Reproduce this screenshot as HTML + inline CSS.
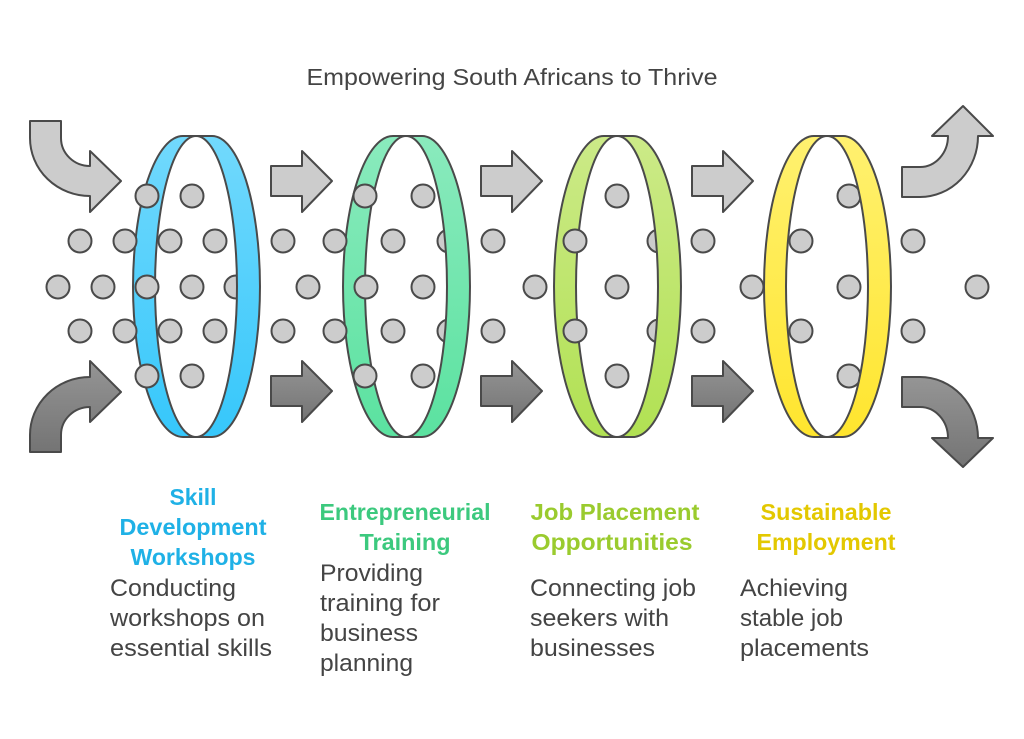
<!DOCTYPE html>
<html><head><meta charset="utf-8"><style>html,body{margin:0;padding:0;background:#fff}svg{display:block}</style></head>
<body>
<svg width="1024" height="739" viewBox="0 0 1024 739" xmlns="http://www.w3.org/2000/svg" font-family="Liberation Sans, sans-serif">
<defs>
<linearGradient id="g1" x1="0" y1="0" x2="0" y2="1"><stop offset="0" stop-color="#72d9fc"/><stop offset="1" stop-color="#36c7fb"/></linearGradient>
<linearGradient id="g2" x1="0" y1="0" x2="0" y2="1"><stop offset="0" stop-color="#8aeabd"/><stop offset="1" stop-color="#5be2a0"/></linearGradient>
<linearGradient id="g3" x1="0" y1="0" x2="0" y2="1"><stop offset="0" stop-color="#ccea88"/><stop offset="1" stop-color="#b1e153"/></linearGradient>
<linearGradient id="g4" x1="0" y1="0" x2="0" y2="1"><stop offset="0" stop-color="#fff170"/><stop offset="1" stop-color="#ffe52e"/></linearGradient>
<linearGradient id="gd" x1="0" y1="0" x2="0" y2="1"><stop offset="0" stop-color="#959595"/><stop offset="1" stop-color="#747474"/></linearGradient>
<g id="dot"><circle r="11.5" fill="#cccccc" stroke="#4a4a4a" stroke-width="2"/></g>
<g id="ra"><path d="M0,15 L31,15 L31,0 L61,30 L31,61 L31,45 L0,45 Z" stroke="#4a4a4a" stroke-width="2" stroke-linejoin="round"/></g>
</defs>

<text x="512" y="85" text-anchor="middle" font-size="23" fill="#444" textLength="411" lengthAdjust="spacingAndGlyphs">Empowering South Africans to Thrive</text>

<path d="M30,121 L61,121 L61,138 A29,28 0 0 0 90,166 L90,151 L121,181 L90,212 L90,196 A60,58 0 0 1 30,138 Z" fill="#cccccc" stroke="#4a4a4a" stroke-width="2" stroke-linejoin="round"/>
<path d="M30,452 L61,452 L61,435 A29,28 0 0 1 90,407 L90,422 L121,392 L90,361 L90,377 A60,58 0 0 0 30,435 Z" fill="url(#gd)" stroke="#4a4a4a" stroke-width="2" stroke-linejoin="round"/>
<path d="M902,167 L920,167 A28,31 0 0 0 948,136 L932,136 L963,106 L993,136 L978,136 A58,61 0 0 1 920,197 L902,197 Z" fill="#cccccc" stroke="#4a4a4a" stroke-width="2" stroke-linejoin="round"/>
<path d="M902,407 L920,407 A28,31 0 0 1 948,438 L932,438 L963,467 L993,438 L978,438 A58,61 0 0 0 920,377 L902,377 Z" fill="url(#gd)" stroke="#4a4a4a" stroke-width="2" stroke-linejoin="round"/>

<use href="#ra" x="271" y="151" fill="#cccccc"/>
<use href="#ra" x="481" y="151" fill="#cccccc"/>
<use href="#ra" x="692" y="151" fill="#cccccc"/>
<use href="#ra" x="271" y="361" fill="url(#gd)"/>
<use href="#ra" x="481" y="361" fill="url(#gd)"/>
<use href="#ra" x="692" y="361" fill="url(#gd)"/>

<g stroke="#4a4a4a" stroke-width="2" stroke-linejoin="round">
<path d="M183,136 A50,150.5 0 0 0 183,437 L196,437 A41,150.5 0 0 1 196,136 Z" fill="url(#g1)"/>
<path transform="translate(210,0)" d="M183,136 A50,150.5 0 0 0 183,437 L196,437 A41,150.5 0 0 1 196,136 Z" fill="url(#g2)"/>
<path transform="translate(421,0)" d="M183,136 A50,150.5 0 0 0 183,437 L196,437 A41,150.5 0 0 1 196,136 Z" fill="url(#g3)"/>
<path transform="translate(631,0)" d="M183,136 A50,150.5 0 0 0 183,437 L196,437 A41,150.5 0 0 1 196,136 Z" fill="url(#g4)"/>
</g>

<g>
<use href="#dot" x="147" y="196"/><use href="#dot" x="192" y="196"/><use href="#dot" x="365" y="196"/><use href="#dot" x="423" y="196"/><use href="#dot" x="617" y="196"/><use href="#dot" x="849" y="196"/>
<use href="#dot" x="80" y="241"/><use href="#dot" x="125" y="241"/><use href="#dot" x="170" y="241"/><use href="#dot" x="215" y="241"/><use href="#dot" x="283" y="241"/><use href="#dot" x="335" y="241"/><use href="#dot" x="393" y="241"/><use href="#dot" x="449" y="241"/><use href="#dot" x="493" y="241"/><use href="#dot" x="575" y="241"/><use href="#dot" x="659" y="241"/><use href="#dot" x="703" y="241"/><use href="#dot" x="801" y="241"/><use href="#dot" x="913" y="241"/>
<use href="#dot" x="58" y="287"/><use href="#dot" x="103" y="287"/><use href="#dot" x="147" y="287"/><use href="#dot" x="192" y="287"/><use href="#dot" x="236" y="287"/><use href="#dot" x="308" y="287"/><use href="#dot" x="366" y="287"/><use href="#dot" x="423" y="287"/><use href="#dot" x="535" y="287"/><use href="#dot" x="617" y="287"/><use href="#dot" x="752" y="287"/><use href="#dot" x="849" y="287"/><use href="#dot" x="977" y="287"/>
<use href="#dot" x="80" y="331"/><use href="#dot" x="125" y="331"/><use href="#dot" x="170" y="331"/><use href="#dot" x="215" y="331"/><use href="#dot" x="283" y="331"/><use href="#dot" x="335" y="331"/><use href="#dot" x="393" y="331"/><use href="#dot" x="449" y="331"/><use href="#dot" x="493" y="331"/><use href="#dot" x="575" y="331"/><use href="#dot" x="659" y="331"/><use href="#dot" x="703" y="331"/><use href="#dot" x="801" y="331"/><use href="#dot" x="913" y="331"/>
<use href="#dot" x="147" y="376"/><use href="#dot" x="192" y="376"/><use href="#dot" x="365" y="376"/><use href="#dot" x="423" y="376"/><use href="#dot" x="617" y="376"/><use href="#dot" x="849" y="376"/>
</g>

<g stroke="#4a4a4a" stroke-width="2" stroke-linejoin="round">
<path d="M196,136 L212,136 A48,150.5 0 0 1 212,437 L196,437 A41,150.5 0 0 0 196,136 Z" fill="url(#g1)"/>
<path transform="translate(210,0)" d="M196,136 L212,136 A48,150.5 0 0 1 212,437 L196,437 A41,150.5 0 0 0 196,136 Z" fill="url(#g2)"/>
<path transform="translate(421,0)" d="M196,136 L212,136 A48,150.5 0 0 1 212,437 L196,437 A41,150.5 0 0 0 196,136 Z" fill="url(#g3)"/>
<path transform="translate(631,0)" d="M196,136 L212,136 A48,150.5 0 0 1 212,437 L196,437 A41,150.5 0 0 0 196,136 Z" fill="url(#g4)"/>
</g>

<g font-weight="bold" font-size="23" text-anchor="middle" lengthAdjust="spacingAndGlyphs">
<text x="193" y="505" fill="#1fb1e6" textLength="47" lengthAdjust="spacingAndGlyphs">Skill</text>
<text x="193" y="535" fill="#1fb1e6" textLength="147" lengthAdjust="spacingAndGlyphs">Development</text>
<text x="193" y="565" fill="#1fb1e6" textLength="125" lengthAdjust="spacingAndGlyphs">Workshops</text>
<text x="405" y="520" fill="#3cc97e" textLength="171" lengthAdjust="spacingAndGlyphs">Entrepreneurial</text>
<text x="405" y="550" fill="#3cc97e" textLength="91" lengthAdjust="spacingAndGlyphs">Training</text>
<text x="615" y="520" fill="#9acb2e" textLength="169" lengthAdjust="spacingAndGlyphs">Job Placement</text>
<text x="612" y="550" fill="#9acb2e" textLength="161" lengthAdjust="spacingAndGlyphs">Opportunities</text>
<text x="826" y="520" fill="#e3c800" textLength="131" lengthAdjust="spacingAndGlyphs">Sustainable</text>
<text x="826" y="550" fill="#e3c800" textLength="139" lengthAdjust="spacingAndGlyphs">Employment</text>
</g>
<g font-size="24" fill="#444">
<text x="110" y="596" textLength="126" lengthAdjust="spacingAndGlyphs">Conducting</text>
<text x="110" y="626" textLength="155" lengthAdjust="spacingAndGlyphs">workshops on</text>
<text x="110" y="656" textLength="162" lengthAdjust="spacingAndGlyphs">essential skills</text>
<text x="320" y="581" textLength="103" lengthAdjust="spacingAndGlyphs">Providing</text>
<text x="320" y="611" textLength="120" lengthAdjust="spacingAndGlyphs">training for</text>
<text x="320" y="641" textLength="98" lengthAdjust="spacingAndGlyphs">business</text>
<text x="320" y="671" textLength="93" lengthAdjust="spacingAndGlyphs">planning</text>
<text x="530" y="596" textLength="166" lengthAdjust="spacingAndGlyphs">Connecting job</text>
<text x="530" y="626" textLength="139" lengthAdjust="spacingAndGlyphs">seekers with</text>
<text x="530" y="656" textLength="125" lengthAdjust="spacingAndGlyphs">businesses</text>
<text x="740" y="596" textLength="108" lengthAdjust="spacingAndGlyphs">Achieving</text>
<text x="740" y="626" textLength="103" lengthAdjust="spacingAndGlyphs">stable job</text>
<text x="740" y="656" textLength="129" lengthAdjust="spacingAndGlyphs">placements</text>
</g>
</svg>
</body></html>
